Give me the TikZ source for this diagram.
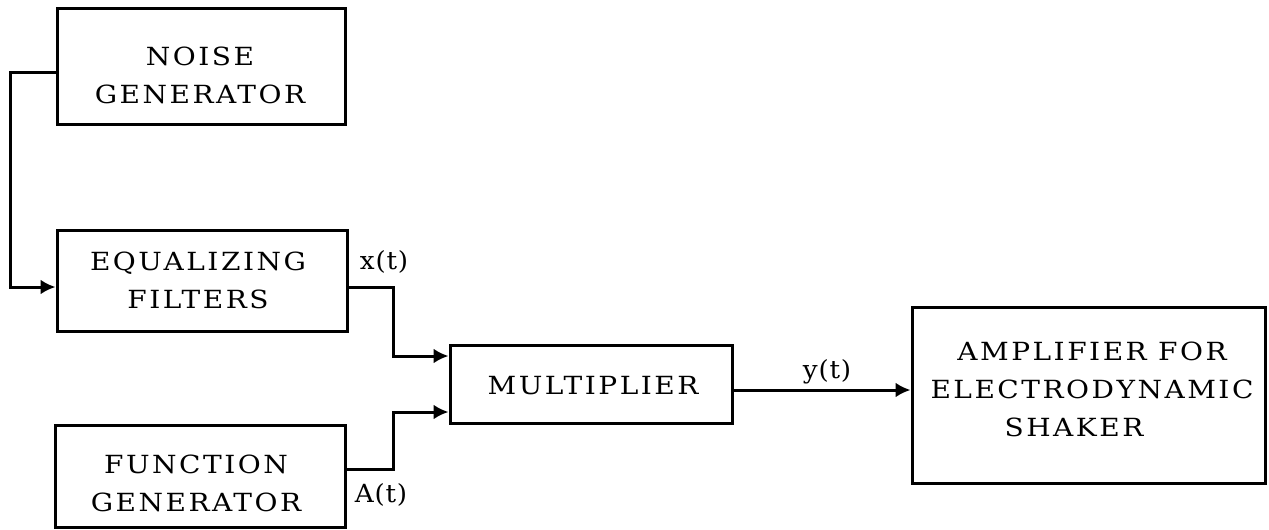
\documentclass[tikz,border=0pt]{standalone}
\usepackage{fontspec}
\newfontfamily\boxfont{DejaVu Serif}[LetterSpace=10,FakeStretch=1.12]
\newfontfamily\sigfont{DejaVu Serif}[LetterSpace=3,FakeStretch=1.05]
\usetikzlibrary{arrows.meta}
\tikzset{
  box/.style={draw, line width=3pt, inner sep=0pt},
  txt/.style={align=center, inner sep=0pt,
    font=\boxfont\fontsize{25}{38}\selectfont},
  sig/.style={inner sep=0pt, font=\sigfont\fontsize{25}{30}\selectfont},
  conn/.style={line width=3pt, -{Latex[length=15pt,width=15pt]}}
}
\begin{document}
\begin{tikzpicture}[x=1pt,y=-1pt]
\useasboundingbox (0,0) rectangle (1269,530);
% boxes
\node[box, minimum width=288pt, minimum height=116pt] (noise) at (201,66) {};
\node[box, minimum width=290pt, minimum height=101pt] (eq) at (202,280.5) {};
\node[box, minimum width=290pt, minimum height=102pt] (func) at (200,476) {};
\node[box, minimum width=282pt, minimum height=78pt] (mult) at (591,384) {};
\node[box, minimum width=353pt, minimum height=176pt] (amp) at (1088.5,395) {};
% texts
\node[txt] (noiseT) at (200,75.5) {NOISE\\GENERATOR};
\node[txt] (eqT) at (198,280) {EQUALIZING\\FILTERS};
\node[txt] (funcT) at (196,483) {FUNCTION\\GENERATOR};
\node[txt] (multT) at (593,386) {MULTIPLIER};
\node[txt] (ampT) at (1092,389) {AMPLIFIER FOR\\ELECTRODYNAMIC\\SHAKER\hspace*{36pt}};
% signal labels
\node[sig] (xl) at (384,262) {x(t)};
\node[sig] (al) at (381,495) {A(t)};
\node[sig] (yl) at (827,372) {y(t)};
% corner points
\coordinate (na) at (10,72);
\coordinate (xa) at (393,287);
\coordinate (aa) at (393,469);
% connectors
\draw[conn] ([yshift=-6pt]noise.west) -- (na) |- ([yshift=-6.5pt]eq.west);
\draw[conn] ([yshift=-6.5pt]eq.east) -- (xa) |- ([yshift=28pt]mult.west);
\draw[conn] ([yshift=7pt]func.east) -- (aa) |- ([yshift=-28pt]mult.west);
\draw[conn] ([yshift=-6pt]mult.east) -- ([yshift=5pt]amp.west);
\end{tikzpicture}
\end{document}
